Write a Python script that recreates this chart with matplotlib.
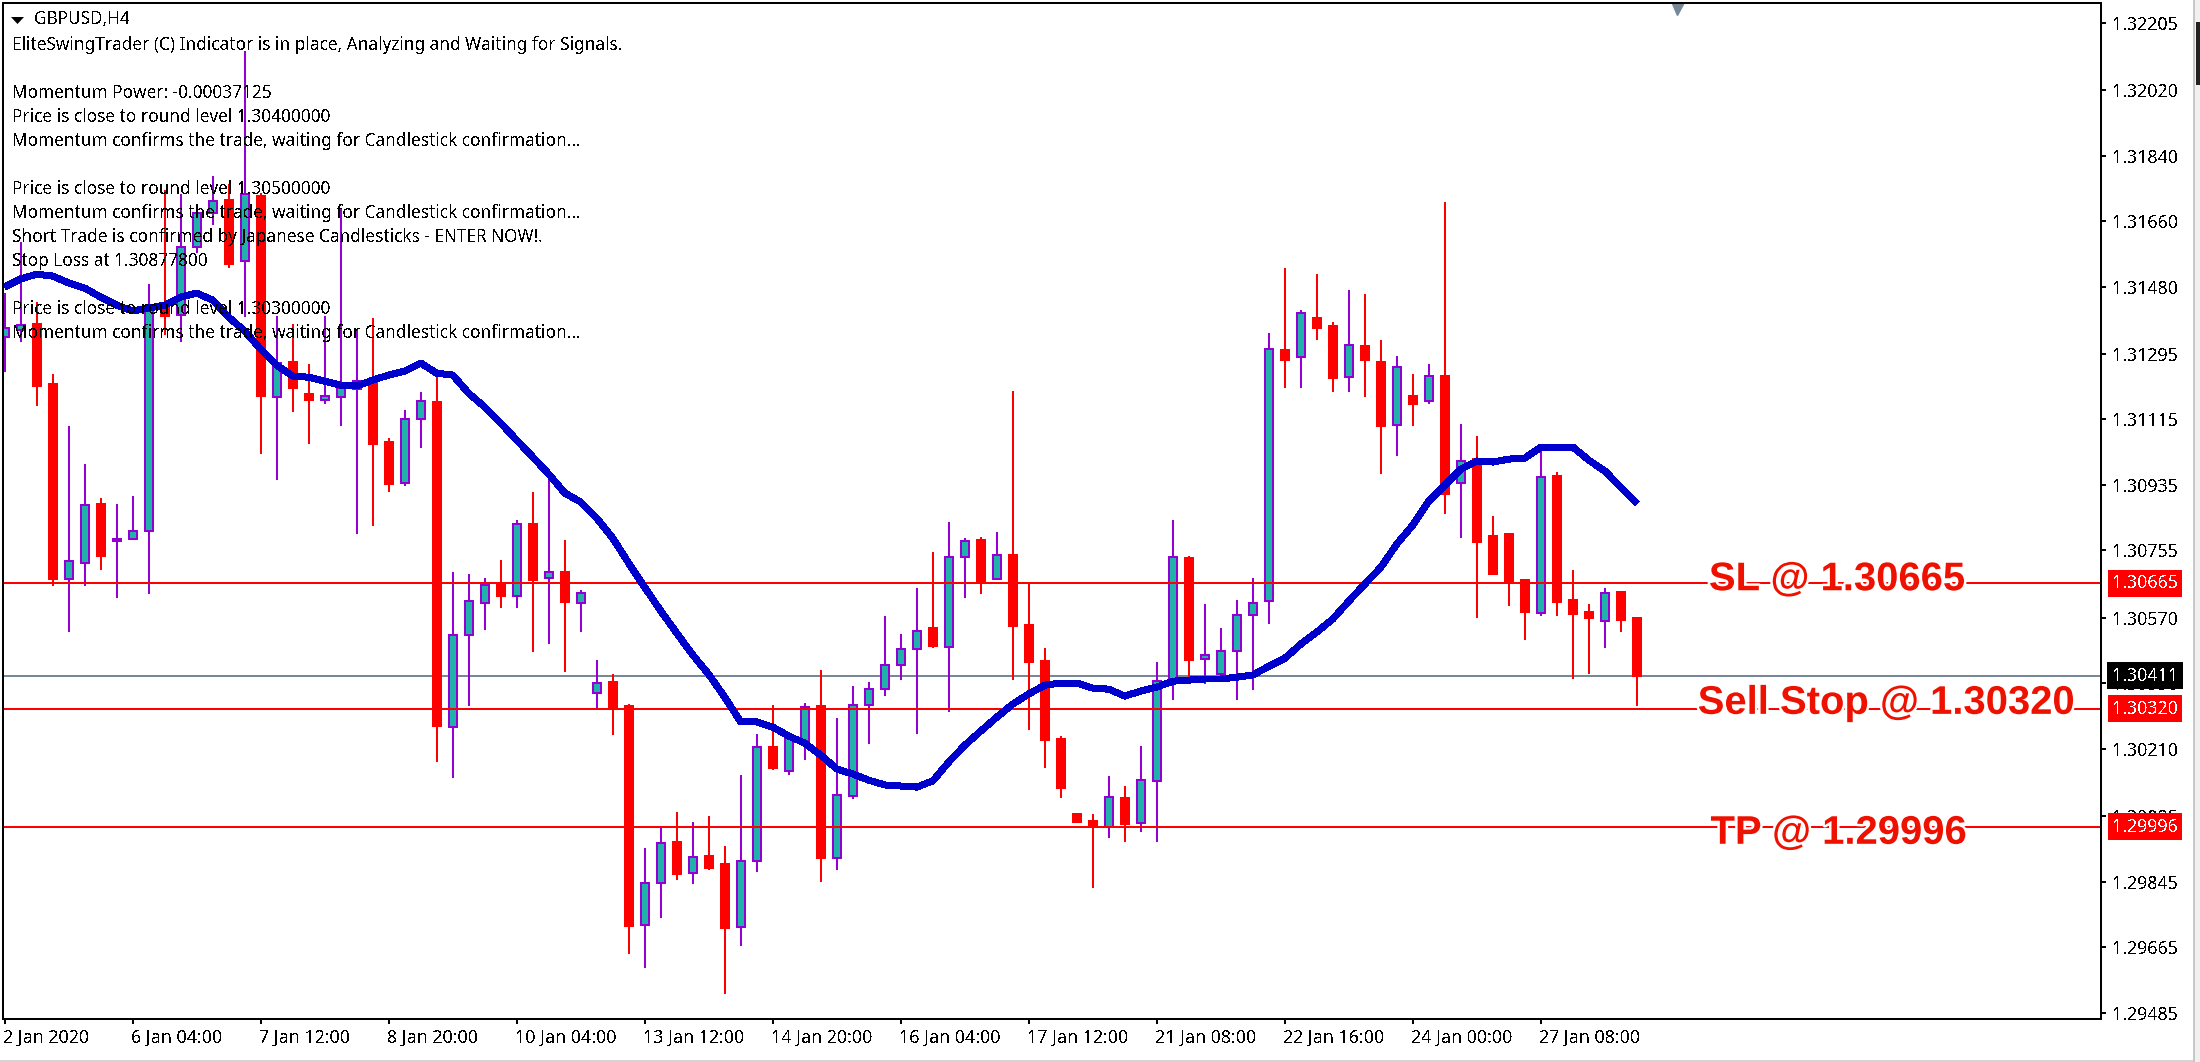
import matplotlib
matplotlib.use('Agg')
import matplotlib.pyplot as plt
import matplotlib.patheffects as pe
from matplotlib.patches import Rectangle, Polygon
from matplotlib.transforms import ScaledTranslation, blended_transform_factory
import numpy as np

plt.rcParams['font.family'] = ['Noto Sans', 'DejaVu Sans']

opens = [1.31341, 1.31360, 1.31377, 1.31212, 1.30676, 1.30720, 1.30882, 1.30781, 1.30786, 1.30808,
         1.31429, 1.31402, 1.31588, 1.31682, 1.31718, 1.31550, 1.31729, 1.31176, 1.31273, 1.31185,
         1.31168, 1.31176, 1.31198, 1.31218, 1.31053, 1.30940, 1.31116, 1.31163, 1.30270, 1.30523,
         1.30611, 1.30665, 1.30630, 1.30828, 1.30679, 1.30696, 1.30611, 1.30363, 1.30394, 1.30328,
         1.29726, 1.29841, 1.29954, 1.29869, 1.29916, 1.29894, 1.29720, 1.29902, 1.30215, 1.30149,
         1.30231, 1.30328, 1.29910, 1.30080, 1.30330, 1.30374, 1.30440, 1.30484, 1.30542, 1.30490,
         1.30737, 1.30784, 1.30676, 1.30742, 1.30550, 1.30451, 1.30237, 1.30031, 1.30012, 1.29995,
         1.30075, 1.30006, 1.30122, 1.30399, 1.30734, 1.30457, 1.30415, 1.30479, 1.30578, 1.30616,
         1.31306, 1.31286, 1.31393, 1.31371, 1.31231, 1.31316, 1.31273, 1.31100, 1.31179, 1.31165,
         1.31234, 1.30940, 1.31006, 1.30795, 1.30800, 1.30674, 1.30583, 1.30959, 1.30619, 1.30586,
         1.30561, 1.30641, 1.30569]
highs = [1.31462, 1.31602, 1.31437, 1.31240, 1.31097, 1.30992, 1.30899, 1.30882, 1.30904, 1.31487,
         1.31745, 1.31734, 1.31696, 1.31784, 1.31762, 1.32127, 1.31737, 1.31399, 1.31377, 1.31267,
         1.31399, 1.31696, 1.31360, 1.31393, 1.31064, 1.31141, 1.31190, 1.31234, 1.30696, 1.30690,
         1.30679, 1.30729, 1.30839, 1.30915, 1.30957, 1.30784, 1.30646, 1.30454, 1.30415, 1.30333,
         1.29938, 1.29992, 1.30036, 1.30009, 1.30025, 1.29943, 1.30138, 1.30251, 1.30330, 1.30253,
         1.30336, 1.30426, 1.30295, 1.30383, 1.30394, 1.30575, 1.30525, 1.30652, 1.30751, 1.30833,
         1.30789, 1.30792, 1.30806, 1.31193, 1.30665, 1.30487, 1.30245, 1.30031, 1.30031, 1.30135,
         1.30108, 1.30218, 1.30448, 1.30839, 1.30740, 1.30608, 1.30542, 1.30619, 1.30679, 1.31352,
         1.31531, 1.31415, 1.31514, 1.31383, 1.31470, 1.31459, 1.31333, 1.31289, 1.31240, 1.31267,
         1.31712, 1.31102, 1.31069, 1.30850, 1.30800, 1.30674, 1.31028, 1.30970, 1.30701, 1.30608,
         1.30652, 1.30641, 1.30569]
lows = [1.31245, 1.31327, 1.31152, 1.30657, 1.30531, 1.30657, 1.30701, 1.30624, 1.30786, 1.30635,
        1.31347, 1.31327, 1.31572, 1.31649, 1.31531, 1.31396, 1.31020, 1.30948, 1.31135, 1.31047,
        1.31157, 1.31097, 1.30800, 1.30822, 1.30915, 1.30932, 1.31036, 1.30174, 1.30130, 1.30328,
        1.30536, 1.30597, 1.30597, 1.30476, 1.30498, 1.30421, 1.30531, 1.30319, 1.30248, 1.29646,
        1.29608, 1.29745, 1.29850, 1.29839, 1.29877, 1.29536, 1.29668, 1.29872, 1.30152, 1.30138,
        1.30179, 1.29844, 1.29877, 1.30072, 1.30223, 1.30355, 1.30399, 1.30251, 1.30487, 1.30311,
        1.30624, 1.30635, 1.30676, 1.30399, 1.30262, 1.30157, 1.30075, 1.30009, 1.29828, 1.29965,
        1.29954, 1.29982, 1.29954, 1.30344, 1.30405, 1.30388, 1.30407, 1.30344, 1.30372, 1.30553,
        1.31201, 1.31201, 1.31333, 1.31190, 1.31190, 1.31176, 1.30965, 1.31014, 1.31097, 1.31157,
        1.30855, 1.30789, 1.30569, 1.30690, 1.30602, 1.30509, 1.30575, 1.30575, 1.30402, 1.30415,
        1.30487, 1.30531, 1.30328]
closes = [1.31366, 1.31374, 1.31207, 1.30676, 1.30726, 1.30880, 1.30740, 1.30786, 1.30808, 1.31424,
          1.31399, 1.31588, 1.31682, 1.31715, 1.31542, 1.31734, 1.31179, 1.31270, 1.31201, 1.31168,
          1.31179, 1.31201, 1.31220, 1.31047, 1.30937, 1.31116, 1.31165, 1.30273, 1.30523, 1.30616,
          1.30660, 1.30630, 1.30828, 1.30674, 1.30696, 1.30613, 1.30638, 1.30391, 1.30319, 1.29723,
          1.29841, 1.29951, 1.29866, 1.29913, 1.29883, 1.29718, 1.29902, 1.30215, 1.30157, 1.30242,
          1.30325, 1.29910, 1.30083, 1.30330, 1.30374, 1.30440, 1.30484, 1.30534, 1.30492, 1.30737,
          1.30781, 1.30665, 1.30742, 1.30547, 1.30448, 1.30234, 1.30102, 1.30009, 1.29995, 1.30078,
          1.30004, 1.30124, 1.30396, 1.30737, 1.30454, 1.30468, 1.30479, 1.30578, 1.30611, 1.31308,
          1.31278, 1.31407, 1.31366, 1.31229, 1.31319, 1.31278, 1.31097, 1.31259, 1.31157, 1.31234,
          1.30910, 1.31001, 1.30778, 1.30690, 1.30665, 1.30586, 1.30957, 1.30613, 1.30580, 1.30569,
          1.30638, 1.30564, 1.30410]
ma = [1.31479, 1.31501, 1.31514, 1.31509, 1.31490, 1.31476, 1.31451, 1.31429, 1.31413, 1.31421,
      1.31429, 1.31451, 1.31462, 1.31443, 1.31396, 1.31358, 1.31308, 1.31264, 1.31234, 1.31231,
      1.31220, 1.31209, 1.31207, 1.31223, 1.31237, 1.31248, 1.31270, 1.31242, 1.31237, 1.31187,
      1.31149, 1.31105, 1.31058, 1.31012, 1.30965, 1.30913, 1.30888, 1.30844, 1.30789, 1.30720,
      1.30654, 1.30589, 1.30528, 1.30468, 1.30415, 1.30352, 1.30284, 1.30284, 1.30270, 1.30245,
      1.30226, 1.30193, 1.30155, 1.30141, 1.30124, 1.30111, 1.30108, 1.30105, 1.30122, 1.30174,
      1.30220, 1.30259, 1.30297, 1.30333, 1.30361, 1.30385, 1.30391, 1.30391, 1.30377, 1.30374,
      1.30355, 1.30369, 1.30380, 1.30396, 1.30399, 1.30402, 1.30402, 1.30407, 1.30413, 1.30437,
      1.30459, 1.30498, 1.30531, 1.30567, 1.30616, 1.30663, 1.30709, 1.30773, 1.30825, 1.30891,
      1.30935, 1.30979, 1.31001, 1.30998, 1.31006, 1.31009, 1.31039, 1.31039, 1.31039, 1.31003,
      1.30973, 1.30929, 1.30885]

yticks = [1.32205, 1.32020, 1.31840, 1.31660, 1.31480, 1.31295, 1.31115, 1.30935, 1.30755,
          1.30570, 1.30390, 1.30210, 1.30025, 1.29845, 1.29665, 1.29485]
xlabels = ['2 Jan 2020', '6 Jan 04:00', '7 Jan 12:00', '8 Jan 20:00', '10 Jan 04:00', '13 Jan 12:00',
           '14 Jan 20:00', '16 Jan 04:00', '17 Jan 12:00', '21 Jan 08:00', '22 Jan 16:00',
           '24 Jan 00:00', '27 Jan 08:00']
bars_per_tick = 8

sl, sell_stop, tp = 1.30665, 1.30320, 1.29996
bid = 1.30411

info_lines = {0: 'EliteSwingTrader (C) Indicator is in place, Analyzing and Waiting for Signals.',
              2: 'Momentum Power: -0.00037125',
              3: 'Price is close to round level 1.30400000',
              4: 'Momentum confirms the trade, waiting for Candlestick confirmation...',
              6: 'Price is close to round level 1.30500000',
              7: 'Momentum confirms the trade, waiting for Candlestick confirmation...',
              8: 'Short Trade is confirmed by Japanese Candlesticks - ENTER NOW!.',
              9: 'Stop Loss at 1.30877800',
              11: 'Price is close to round level 1.30300000',
              12: 'Momentum confirms the trade, waiting for Candlestick confirmation...'}

W, H = 2200, 1062
TEXT_SIZE = 12.4
TICK_SIZE = 12.8
LABEL_SIZE = 28.8
RED = '#ff0000'
TEAL = '#20b2aa'
PURPLE = '#9400d3'
GREY = '#778899'
px = 72 / 100  # one screen pixel in points

fig = plt.figure(figsize=(W / 100, H / 100), dpi=100, facecolor='white')
ax = fig.add_axes([3 / W, 1 - 1019 / H, (2101 - 3) / W, (1019 - 3) / H])
ax.set_xlim(-0.1, 131.0)
ax.set_ylim(1.29468, 1.32259)

x = np.arange(len(opens))
o, h, l, c = map(np.array, (opens, highs, lows, closes))
up = c >= o

ax.axhline(bid, color=GREY, lw=2 * px, zorder=1, antialiased=False)

ax.vlines(x[up], l[up], h[up], color=PURPLE, lw=2 * px, zorder=2, antialiased=False)
ax.vlines(x[~up], l[~up], h[~up], color=RED, lw=2 * px, zorder=2, antialiased=False)
ax.bar(x[up], (c - o)[up], bottom=o[up], width=0.5, color=TEAL, edgecolor=PURPLE,
       linewidth=2 * px, zorder=2.1, antialiased=False)
ax.bar(x[~up], (c - o)[~up], bottom=o[~up], width=0.5, color=RED, edgecolor=RED,
       linewidth=2 * px, zorder=2.1, antialiased=False)

for level in (sl, sell_stop, tp):
    ax.axhline(level, color=RED, lw=2 * px, zorder=2.2, antialiased=False)

ax.plot(x, ma, color='#0000cd', lw=6 * px, zorder=2.3, antialiased=False,
        solid_capstyle='butt', solid_joinstyle='round')

# trade labels sit near their lines with a white halo
halo = [pe.withStroke(linewidth=5 * px, foreground='white')]
for bar_x, level, dy, label in ((106.5, sl, 4, 'SL @ 1.30665'),
                                (105.8, sell_stop, 6, 'Sell Stop @ 1.30320'),
                                (106.6, tp, -6, 'TP @ 1.29996')):
    ax.annotate(label, (bar_x, level), xytext=(0, dy * px), textcoords='offset points',
                ha='left', va='center', color='#ee1100', fontsize=LABEL_SIZE, fontweight='bold',
                family='Liberation Sans', zorder=4, path_effects=halo)

# axes
for side in ax.spines.values():
    side.set_linewidth(2 * px)
    side.set_color('black')
    side.set_zorder(5)
ax.yaxis.tick_right()
ax.set_yticks(yticks)
ax.set_yticklabels(['%.5f' % t for t in yticks], fontsize=TICK_SIZE)
ax.set_xticks(np.arange(len(xlabels)) * bars_per_tick)
ax.set_xticklabels(xlabels, fontsize=TICK_SIZE, ha='left')
ax.tick_params(axis='y', length=5 * px, width=2 * px, pad=6 * px)
ax.tick_params(axis='x', length=5 * px, width=2 * px, pad=5 * px)
shift = ScaledTranslation(-2 / 100, 0, fig.dpi_scale_trans)
for lab in ax.get_xticklabels():
    lab.set_transform(lab.get_transform() + shift)
for lab in ax.get_xticklabels() + ax.get_yticklabels():
    lab.set_antialiased(False)

# price tags on the right
tag_trans = blended_transform_factory(fig.transFigure, ax.transData)
for level, bg in ((sl, RED), (sell_stop, RED), (tp, RED), (bid, 'black')):
    ax.text(2145 / W, level, '%.5f' % level, transform=tag_trans, ha='center', va='center',
            color='white', fontsize=TICK_SIZE, clip_on=False, zorder=6, antialiased=False,
            bbox=dict(facecolor=bg, edgecolor='none', boxstyle='square,pad=0.25'))

# small grey marker on the top edge
ax.plot([104.5], [1.32245], marker='v', ms=13 * px, color=GREY, zorder=3, antialiased=False)

# window chrome and info text
fig.add_artist(Polygon([(11 / W, 1 - 17 / H), (24 / W, 1 - 17 / H), (17.5 / W, 1 - 24 / H)],
                       closed=True, transform=fig.transFigure, facecolor='black', edgecolor='none'))
fig.text(34 / W, 1 - 19 / H, 'GBPUSD,H4', ha='left', va='center', fontsize=TEXT_SIZE,
         zorder=7, antialiased=False)
for row, line in info_lines.items():
    fig.text(11.5 / W, 1 - (45 + 24 * row) / H, line, ha='left', va='center', fontsize=TEXT_SIZE,
             zorder=7, antialiased=False)

fig.add_artist(Rectangle((0, 0), 1, 2 / H, transform=fig.transFigure, facecolor='#d4d4d4', edgecolor='none'))
fig.add_artist(Rectangle((2193 / W, 0), 7 / W, 1, transform=fig.transFigure, facecolor='#f0f0f0', edgecolor='none'))
fig.add_artist(Rectangle((2193 / W, 0), 2 / W, 1, transform=fig.transFigure, facecolor='#c8c8c8', edgecolor='none'))
fig.add_artist(Rectangle((2196 / W, 1 - 85 / H), 4 / W, 63 / H, transform=fig.transFigure, facecolor='#222222', edgecolor='none'))

fig.savefig('out.png', dpi=100)
